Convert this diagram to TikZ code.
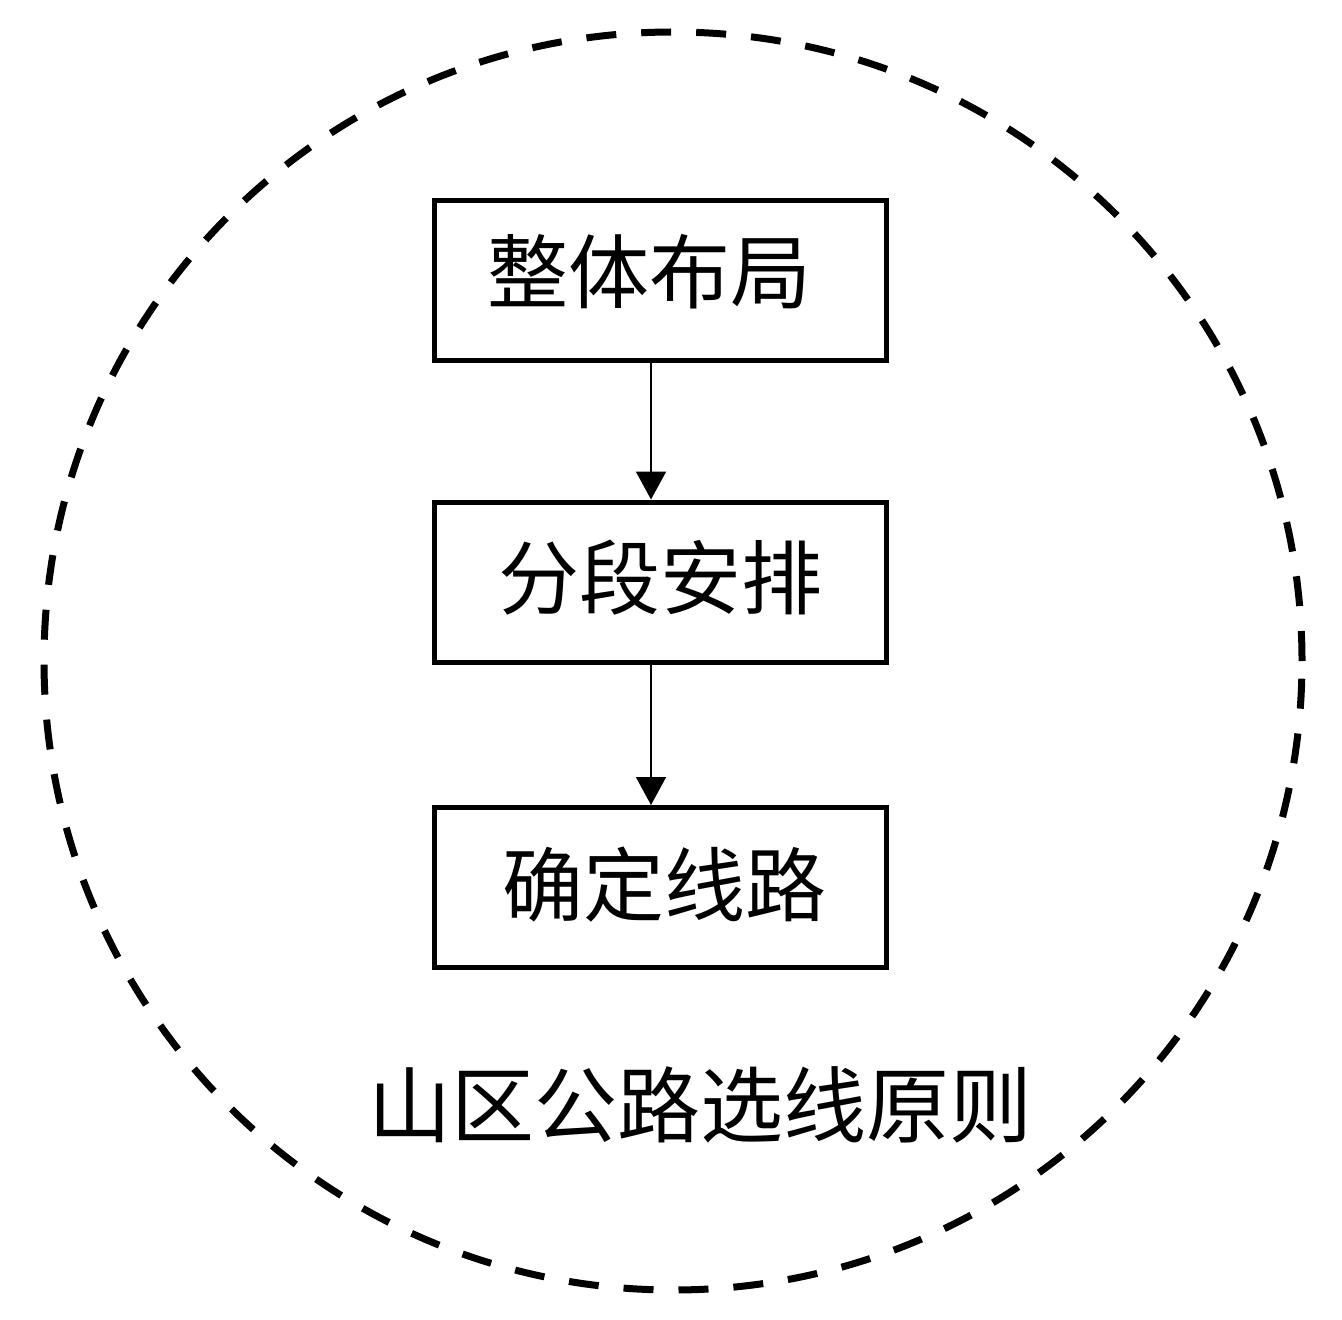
\documentclass[tikz,border=0pt]{standalone}
\usepackage{fontspec}
\newfontfamily\cjk{Noto Sans CJK SC}
\usetikzlibrary{arrows.meta}
\begin{document}
\begin{tikzpicture}[x=0.5pt,y=-0.5pt,
  stepbox/.style={draw=black,line width=2.5pt,minimum width=226pt,minimum height=80pt,inner sep=0pt},
  boxtext/.style={font=\cjk\fontsize{40.5pt}{42pt}\selectfont,inner sep=0pt},
  flow/.style={line width=0.9pt,-{Triangle[width=15pt,length=14pt]}},
  ring/.style={line width=3.5pt,dash pattern=on 15pt off 12.5pt}]
\useasboundingbox[fill=white] (0,0) rectangle (1342,1320);
\coordinate (c) at (673,661);
\draw[ring] (c) circle[radius=314.5pt];
\node[stepbox] (b1) at (660,280.5) {};
\node[stepbox] (b2) at (660,582) {};
\node[stepbox] (b3) at (660,887.5) {};
\node[boxtext] (t1) at (649,272) {整体布局};
\node[boxtext] (t2) at (660,578) {分段安排};
\node[boxtext] (t3) at (664,885) {确定线路};
\draw[flow] ([xshift=-4.5pt]b1.south) -- ([xshift=-4.5pt]b2.north);
\draw[flow] ([xshift=-4.5pt]b2.south) -- ([xshift=-4.5pt]b3.north);
\node[font=\cjk\fontsize{41.5pt}{43pt}\selectfont,inner sep=0pt] (cap) at (700,1105) {山区公路选线原则};
\end{tikzpicture}
\end{document}
